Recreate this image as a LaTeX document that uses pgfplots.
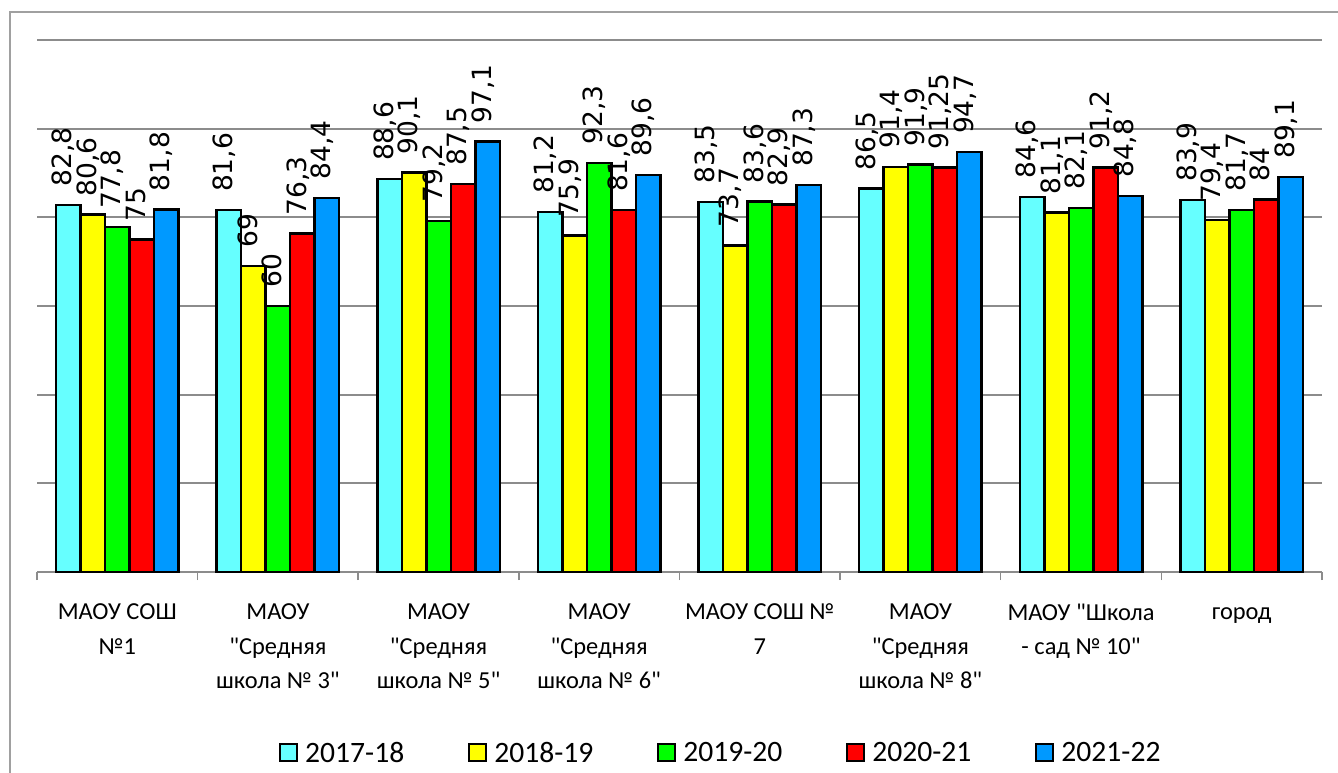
\documentclass[border=0pt]{standalone}
\usepackage{pgfplots}
\pgfplotsset{compat=1.18}
\usepackage{fontspec}
\setmainfont{Carlito}[Ligatures=TeXOff]
\newfontfamily\dvfont{DejaVu Sans}
\definecolor{c1}{HTML}{66FFFF}
\definecolor{c2}{HTML}{FFFF00}
\definecolor{c3}{HTML}{00FF00}
\definecolor{c4}{HTML}{FF0000}
\definecolor{c5}{HTML}{0099FF}
\definecolor{gridgray}{HTML}{8C8C8C}
\definecolor{framegray}{HTML}{A0A0A0}
\pgfplotsset{
  mybar/.style={fill=#1, draw=black, line width=2.5bp,
    legend image code/.code={\draw[fill=#1, draw=black, line width=2bp] (0bp,-8bp) rectangle (17bp,9bp);}},
}
\begin{document}
\begin{tikzpicture}
\useasboundingbox (0,0) rectangle (1338bp,773bp);
\clip (0,0) rectangle (1338bp,773bp);
\draw[framegray, line width=2bp] (10bp,-20bp) rectangle (1360bp,761bp);
\begin{axis}[
  at={(37bp,201bp)}, anchor=south west,
  scale only axis, width=1285bp, height=532bp,
  ybar=0pt, bar width=24.5bp,
  xmin=-0.5, xmax=7.5, ymin=0, ymax=120,
  axis x line*=bottom, axis y line*=left,
  x axis line style={gridgray, line width=2bp, -},
  y axis line style={draw=none},
  xtick={0,...,7},
  xticklabels={{МАОУ СОШ\\№1},{МАОУ\\"Средняя\\школа № 3"},{МАОУ\\"Средняя\\школа № 5"},{МАОУ\\"Средняя\\школа № 6"},{МАОУ СОШ №\\7},{МАОУ\\"Средняя\\школа № 8"},{МАОУ "Школа\\- сад № 10"},{\vphantom{М}город}},
  major x tick style={draw=none},
  minor xtick={-0.5,0.5,...,7.5},
  minor x tick style={gridgray, line width=1.5bp},
  minor tick length=8bp,
  xtick align=outside,
  ytick={0,20,...,120}, yticklabels={}, major y tick style={draw=none},
  ymajorgrids, major y grid style={gridgray, line width=2bp},
  xticklabel style={align=center, font=\fontsize{24.4bp}{34.5bp}\selectfont, yshift=-24bp},
  nodes near coords,
  /pgf/number format/use comma,
  /pgf/number format/assume math mode=true,
  every node near coord/.append style={rotate=90, anchor=west, font=\fontsize{26.5bp}{28bp}\selectfont\dvfont, text=black, inner xsep=17bp, inner ysep=0pt, text height=0.73em, text depth=0pt},
  clip=false,
  legend columns=5,
  legend style={at={(0.186,-0.34)}, anchor=west, draw=none, fill=none, font=\fontsize{29.6bp}{32bp}\selectfont, nodes={font=\fontsize{29.6bp}{32bp}\selectfont}, /tikz/every odd column/.append style={column sep=5bp}, /tikz/every even column/.append style={column sep=62bp}},
]
\addplot[mybar=c1] coordinates {(0,82.8) (1,81.6) (2,88.6) (3,81.2) (4,83.5) (5,86.5) (6,84.6) (7,83.9)};
\addplot[mybar=c2] coordinates {(0,80.6) (1,69) (2,90.1) (3,75.9) (4,73.7) (5,91.4) (6,81.1) (7,79.4)};
\addplot[mybar=c3] coordinates {(0,77.8) (1,60) (2,79.2) (3,92.3) (4,83.6) (5,91.9) (6,82.1) (7,81.7)};
\addplot[mybar=c4] coordinates {(0,75) (1,76.3) (2,87.5) (3,81.6) (4,82.9) (5,91.25) (6,91.2) (7,84)};
\addplot[mybar=c5] coordinates {(0,81.8) (1,84.4) (2,97.1) (3,89.6) (4,87.3) (5,94.7) (6,84.8) (7,89.1)};
\legend{2017-18,2018-19,2019-20,2020-21,2021-22}
\end{axis}
\end{tikzpicture}
\end{document}
